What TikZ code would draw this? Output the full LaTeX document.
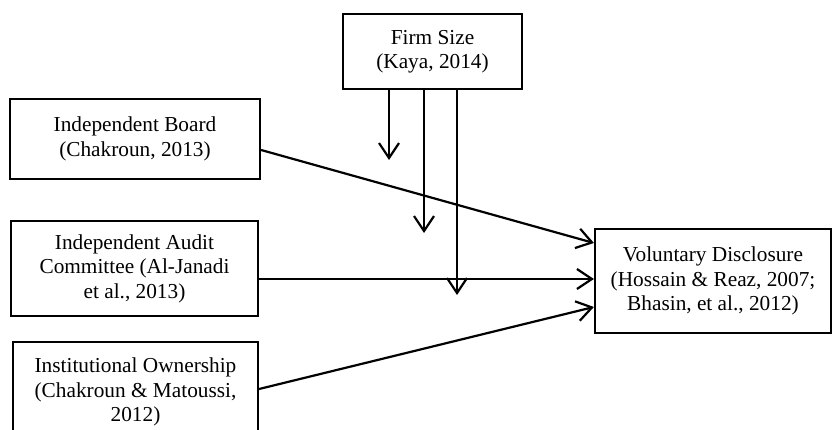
\documentclass[tikz,border=0pt]{standalone}
\usepackage{fontspec}
\setmainfont{Liberation Serif}
\usetikzlibrary{arrows.meta,calc}
\begin{document}
\begin{tikzpicture}[x=1pt,y=-1pt,
  box/.style={draw,line width=2.2pt,align=center,inner sep=0pt,
    font=\fontsize{21.3}{24.5}\selectfont},
  arr/.style={line width=2.2pt,-{Straight Barb[length=15pt,width=20pt,line width=2.2pt]}}]
\useasboundingbox (0,0) rectangle (833,430);
\node[box,minimum width=179pt,minimum height=75pt] (firm) at (432.5,51.5) {Firm Size\\(Kaya, 2014)};
\node[box,minimum width=250pt,minimum height=80pt] (board) at (135,139) {Independent Board\\(Chakroun, 2013)};
\node[box,minimum width=247pt,minimum height=95pt] (audit) at (134.5,268.5) {Independent Audit\\Committee (Al-Janadi\\et al., 2013)};
\node[box,minimum width=245pt,minimum height=100pt] (inst) at (135.5,392) {Institutional Ownership\\(Chakroun \& Matoussi,\\2012)};
\node[box,minimum width=236pt,minimum height=104pt] (vol) at (713,281) {Voluntary Disclosure\\(Hossain \& Reaz, 2007;\\Bhasin, et al., 2012)};
\coordinate (m1) at (389,160);
\coordinate (m2) at (424,233);
\coordinate (m3) at (457,295);
\draw[arr] ([yshift=-11pt]board.east) -- ([yshift=38pt]vol.west);
\draw[arr] ([yshift=-10.5pt]audit.east) -- ([yshift=2pt]vol.west);
\draw[arr] ([yshift=3pt]inst.east) -- ([yshift=-26pt]vol.west);
\draw[arr] ([xshift=-43.5pt]firm.south) -- (m1);
\draw[arr] ([xshift=-8.5pt]firm.south) -- (m2);
\draw[arr] ([xshift=24.5pt]firm.south) -- (m3);
\end{tikzpicture}
\end{document}
